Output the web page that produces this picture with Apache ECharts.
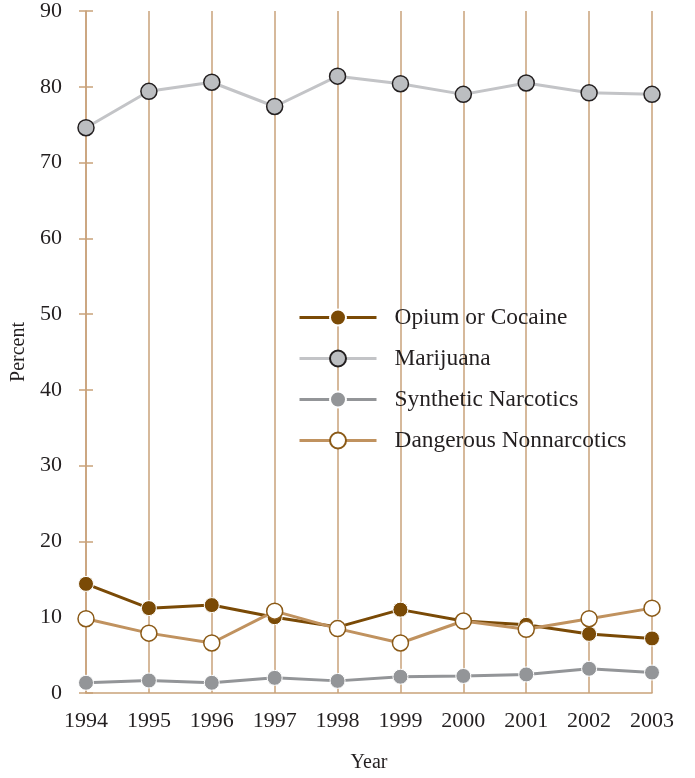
<!DOCTYPE html>
<html>
<head>
<meta charset="utf-8">
<script src="https://cdn.jsdelivr.net/npm/echarts@6/dist/echarts.min.js"></script>
<style>html,body{margin:0;padding:0;background:#fff}#c{width:695px;height:778px}</style>
</head>
<body>
<div id="c"></div>
<script>
const years = ['1994','1995','1996','1997','1998','1999','2000','2001','2002','2003'];
const opium = [14.4, 11.2, 11.6, 10.0, 8.7, 11.0, 9.5, 9.0, 7.8, 7.2];
const marijuana = [74.6, 79.4, 80.6, 77.4, 81.4, 80.4, 79.0, 80.5, 79.2, 79.0];
const synthetic = [1.35, 1.65, 1.35, 2.0, 1.6, 2.15, 2.25, 2.45, 3.2, 2.7];
const dangerous = [9.8, 7.9, 6.6, 10.8, 8.5, 6.6, 9.5, 8.4, 9.8, 11.2];
const yTicks = [0, 10, 20, 30, 40, 50, 60, 70, 80, 90];

const tan = '#c9a27a';
const txt = '#231f20';
const font = 'Liberation Serif';

const chart = echarts.init(document.getElementById('c'));
chart.setOption({
  animation: false,
  grid: {left: 86, right: 43, top: 10, bottom: 82},
  legend: {
    orient: 'vertical', left: 293, top: 301,
    itemWidth: 77, itemHeight: 20, itemGap: 18,
    lineStyle: {width: 3},
    textStyle: {fontFamily: font, fontSize: 23.4, color: txt, padding: [0,0,0,13]},
    data: ['Opium or Cocaine','Marijuana','Synthetic Narcotics','Dangerous Nonnarcotics']
  },
  xAxis: {
    type: 'category', data: years, boundaryGap: false,
    name: 'Year', nameLocation: 'middle', nameGap: 60,
    nameTextStyle: {fontFamily: font, fontSize: 20, color: txt},
    axisLine: {lineStyle: {color: tan, width: 1.5}},
    axisTick: {show: false},
    axisLabel: {fontFamily: font, fontSize: 22, color: txt, margin: 17},
    splitLine: {show: true, lineStyle: {color: tan, width: 1.5}}
  },
  yAxis: [{
    type: 'value', min: yTicks[0], max: yTicks[yTicks.length-1], interval: 10,
    name: 'Percent', nameLocation: 'middle', nameGap: 51,
    nameTextStyle: {fontFamily: font, fontSize: 20, color: txt},
    axisLine: {show: true, lineStyle: {color: tan, width: 1.5}},
    axisTick: {show: true, inside: false, length: 7, lineStyle: {color: tan, width: 1.5}},
    axisLabel: {fontFamily: font, fontSize: 22, color: txt, margin: 24},
    splitLine: {show: false}
  }, {
    type: 'value', min: yTicks[0], max: yTicks[yTicks.length-1], interval: 10, position: 'left',
    axisLine: {show: false},
    axisTick: {show: true, inside: true, length: 7, lineStyle: {color: tan, width: 1.5}},
    axisLabel: {show: false},
    splitLine: {show: false}
  }],
  series: [{
    name: 'Opium or Cocaine', type: 'line', data: opium,
    symbol: 'circle', symbolSize: 15,
    lineStyle: {color: '#7a4a06', width: 3},
    itemStyle: {color: '#7a4a06', borderColor: '#ffffff', borderWidth: 1}
  }, {
    name: 'Marijuana', type: 'line', data: marijuana,
    symbol: 'circle', symbolSize: 16,
    lineStyle: {color: '#c3c4c7', width: 3},
    itemStyle: {color: '#bcbec1', borderColor: '#231f20', borderWidth: 1.5}
  }, {
    name: 'Synthetic Narcotics', type: 'line', data: synthetic,
    symbol: 'circle', symbolSize: 15,
    lineStyle: {color: '#939598', width: 3},
    itemStyle: {color: '#939598', borderColor: '#ffffff', borderWidth: 1}
  }, {
    name: 'Dangerous Nonnarcotics', type: 'line', data: dangerous,
    symbol: 'circle', symbolSize: 16,
    lineStyle: {color: '#c0925f', width: 3},
    itemStyle: {color: '#ffffff', borderColor: '#8b5a17', borderWidth: 1.5}
  }]
});
</script>
</body>
</html>
